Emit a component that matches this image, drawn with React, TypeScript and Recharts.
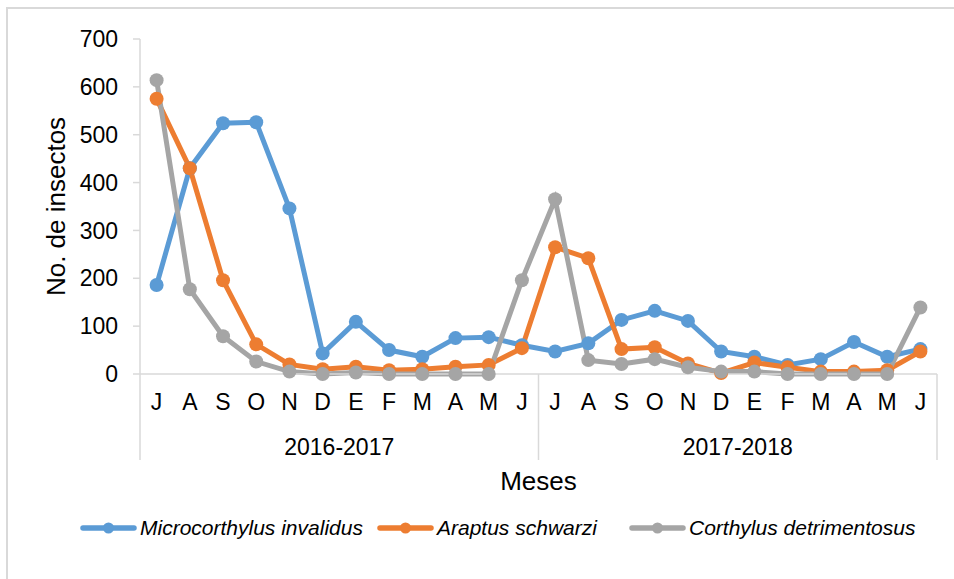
import { Label, Legend, Line, LineChart, XAxis, YAxis } from "recharts"

const months = ["J", "A", "S", "O", "N", "D", "E", "F", "M", "A", "M", "J", "J", "A", "S", "O", "N", "D", "E", "F", "M", "A", "M", "J"]
const seasons = ["2016-2017", "2017-2018"]

const microcorthylus = [186, 430, 524, 526, 346, 43, 109, 50, 36, 75, 77, 60, 47, 64, 113, 132, 111, 47, 36, 19, 31, 67, 36, 52]
const araptus = [575, 430, 196, 62, 20, 10, 15, 8, 10, 15, 19, 54, 265, 242, 52, 56, 22, 2, 24, 14, 5, 5, 8, 47]
const corthylus = [614, 177, 79, 26, 5, 0, 3, 0, 0, 0, 0, 196, 365, 29, 21, 31, 14, 5, 5, 0, 0, 0, 0, 139]

const yTicks = [0, 100, 200, 300, 400, 500, 600, 700]

const series = [
  { key: "micro", name: "Microcorthylus invalidus", color: "#5B9BD5" },
  { key: "araptus", name: "Araptus schwarzi", color: "#ED7D31" },
  { key: "corthylus", name: "Corthylus detrimentosus", color: "#A5A5A5" },
]

const data = months.map((m, i) => ({
  idx: i,
  micro: microcorthylus[i],
  araptus: araptus[i],
  corthylus: corthylus[i],
}))

const W = 954
const H = 579
const PLOT_LEFT = 140
const PLOT_RIGHT = 937
const STEP = (PLOT_RIGHT - PLOT_LEFT) / months.length
const HALF = STEP / 2
const AXIS_COLOR = "#d9d9d9"

// month letter + season separators/labels drawn under the x axis
function MonthTick(props: any) {
  const { x, y, payload } = props
  const i = payload.value as number
  const parts: any[] = []
  parts.push(
    <text key="m" x={x} y={y} dy={36} textAnchor="middle" fontSize={23} fill="#000">
      {months[i]}
    </text>
  )
  if (i % 12 === 0) {
    parts.push(<line key="s" x1={x - HALF} x2={x - HALF} y1={y} y2={y + 86} stroke={AXIS_COLOR} strokeWidth={1.5} />)
  }
  if (i === months.length - 1) {
    parts.push(<line key="e" x1={x + HALF} x2={x + HALF} y1={y} y2={y + 86} stroke={AXIS_COLOR} strokeWidth={1.5} />)
  }
  if (i % 12 === 5) {
    parts.push(
      <text key="y" x={x + HALF} y={y} dy={81} textAnchor="middle" fontSize={23} fill="#000">
        {seasons[Math.floor(i / 12)]}
      </text>
    )
  }
  return <g>{parts}</g>
}

const legendLeft = [80, 377, 629]

function LegendContent() {
  return (
    <div style={{ position: "relative", height: 30 }}>
      {series.map((s, i) => (
        <div
          key={s.key}
          style={{ position: "absolute", left: legendLeft[i], top: 0, height: 30, display: "flex", alignItems: "center" }}
        >
          <svg width={57} height={14}>
            <line x1={3} x2={54} y1={7} y2={7} stroke={s.color} strokeWidth={5.5} strokeLinecap="round" />
            <circle cx={28.5} cy={7} r={5.5} fill={s.color} />
          </svg>
          <span style={{ marginLeft: 3, fontSize: 21, fontStyle: "italic", color: "#000", whiteSpace: "nowrap" }}>
            {s.name}
          </span>
        </div>
      ))}
    </div>
  )
}

export default function App() {
  return (
    <div style={{ position: "absolute", left: 0, top: 0, width: W, height: H, overflow: "hidden", background: "#fff", fontFamily: "'Liberation Sans', Arial, sans-serif" }}>
      <div style={{ position: "absolute", left: 6, top: 7, width: 980, height: 620, border: `2px solid ${AXIS_COLOR}` }} />
      <div style={{ position: "absolute", left: 0, top: 0 }}>
        <LineChart width={W} height={H} data={data} margin={{ top: 39, right: W - PLOT_RIGHT, left: 0, bottom: 50 }}>
          <XAxis
            dataKey="idx"
            type="category"
            interval={0}
            height={125}
            padding={{ left: HALF, right: HALF }}
            axisLine={{ stroke: AXIS_COLOR, strokeWidth: 1.5 }}
            tickLine={false}
            tickSize={0}
            tickMargin={0}
            tick={<MonthTick />}
          >
            <Label value="Meses" position="insideBottom" offset={9} fontSize={26} fill="#000" />
          </XAxis>
          <YAxis
            width={PLOT_LEFT}
            domain={[0, 700]}
            ticks={yTicks}
            interval={0}
            axisLine={{ stroke: AXIS_COLOR, strokeWidth: 1.5 }}
            tickLine={{ stroke: AXIS_COLOR, strokeWidth: 1.5 }}
            tickSize={7}
            tickMargin={15}
            tick={{ fontSize: 23, fill: "#000" }}
          >
            <Label
              value="No. de insectos"
              angle={-90}
              position="insideLeft"
              offset={56}
              fontSize={26}
              fill="#000"
              style={{ textAnchor: "middle" }}
            />
          </YAxis>
          <Legend verticalAlign="bottom" content={<LegendContent />} wrapperStyle={{ bottom: 36 }} />
          {series.map((s) => (
            <Line
              key={s.key}
              dataKey={s.key}
              name={s.name}
              stroke={s.color}
              strokeWidth={5}
              dot={{ r: 7, fill: s.color, stroke: "none" }}
              activeDot={false}
              isAnimationActive={false}
            />
          ))}
        </LineChart>
      </div>
    </div>
  )
}
